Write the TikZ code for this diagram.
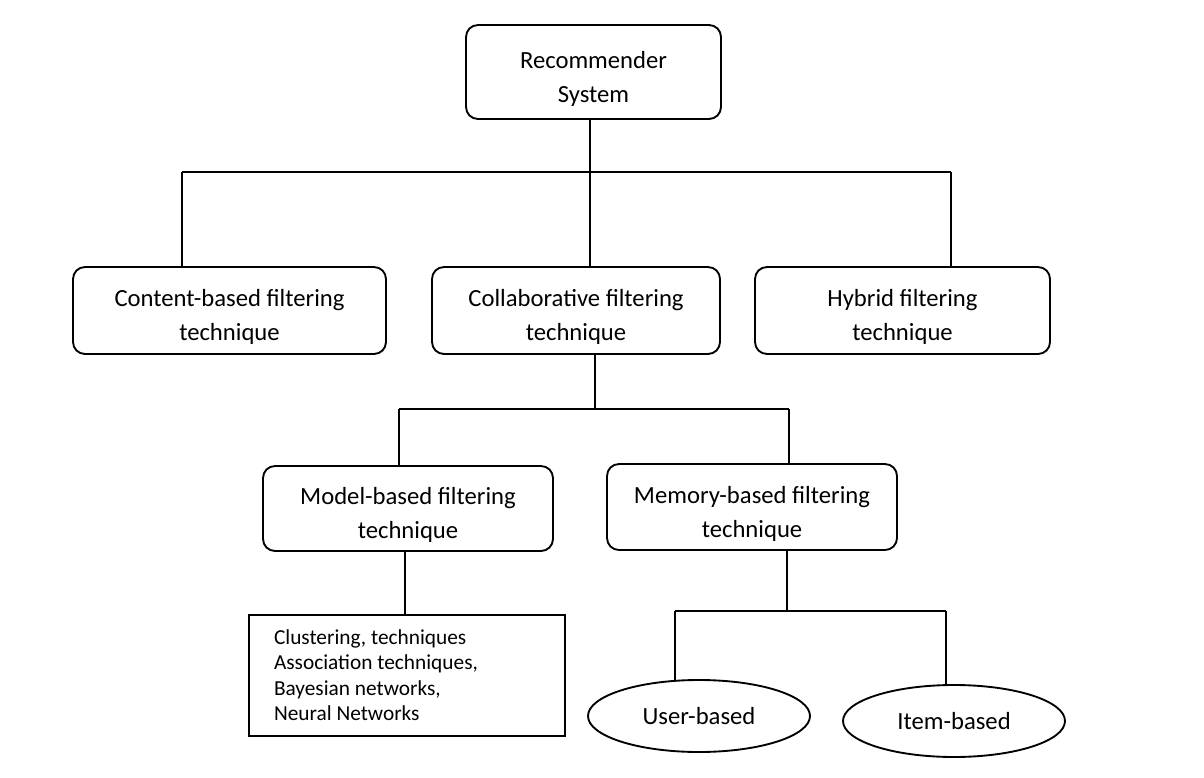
\documentclass[tikz,border=0pt]{standalone}
\usepackage{fontspec}
\setmainfont{Carlito}
\usetikzlibrary{shapes.geometric}
\frenchspacing
\newcommand\twoline[2]{\raisebox{-4.8pt}[\height][\depth]{\begin{tabular}{@{}c@{}}#1\\#2\end{tabular}}}
\tikzset{
  box/.style={draw, line width=1.4pt, rounded corners=9pt, inner sep=0pt,
    font=\fontsize{18.5}{25.5}\selectfont},
  listbox/.style={draw, line width=1.7pt, inner xsep=18.75pt, inner ysep=0pt,
    font=\fontsize{16}{19}\selectfont},
  oval/.style={draw, ellipse, line width=1.4pt, inner sep=0pt, minimum width=222*0.75pt, minimum height=72*0.75pt,
    font=\fontsize{18.5}{22}\selectfont},
  link/.style={line width=1.4pt}
}
\begin{document}
\begin{tikzpicture}[x=0.75pt,y=-0.75pt]
\useasboundingbox (0,0) rectangle (1204,778);
% level 0
\node[box, minimum width=255*0.75pt, minimum height=94*0.75pt] (root) at (593.5,72) {\twoline{Recommender}{System}};
% level 1
\node[box, minimum width=313*0.75pt, minimum height=87*0.75pt] (content) at (229.5,310.5) {\twoline{Content-based filtering}{technique}};
\node[box, minimum width=288*0.75pt, minimum height=87*0.75pt] (collab) at (576,310.5) {\twoline{Collaborative filtering}{technique}};
\node[box, minimum width=295*0.75pt, minimum height=87*0.75pt] (hybrid) at (902.5,310.5) {\twoline{Hybrid filtering}{technique}};
% level 2
\node[box, minimum width=290*0.75pt, minimum height=85*0.75pt] (model) at (408,508.5) {\twoline{Model-based filtering}{technique}};
\node[box, minimum width=290*0.75pt, minimum height=86*0.75pt] (memory) at (752,507) {\twoline{Memory-based filtering}{technique}};
% level 3
\node[listbox, minimum height=121*0.75pt] (list) at (407,675.5)
  {\raisebox{-1.5pt}[\height][\depth]{\begin{tabular}{@{}p{199.5pt}@{}}Clustering, techniques\\Association techniques,\\Bayesian networks,\\Neural Networks\end{tabular}}};
\node[oval] (user) at (699,716) {User-based};
\node[oval] (item) at (954,721) {Item-based};
% junctions
\coordinate (j1) at (590,172);
\coordinate (b1L) at (182,172);
\coordinate (b1R) at (951,172);
\coordinate (j2) at (595,409);
\coordinate (b2L) at (399,409);
\coordinate (b2R) at (789,409);
\coordinate (j3) at (405,551);
\coordinate (j4) at (787,611);
\coordinate (b4L) at (675,611);
\coordinate (b4R) at (946,611);
% connectors
\draw[link] (root.south -| j1) -- (j1);
\draw[link] (b1L) -- (b1R);
\draw[link] (b1L) -- (content.north -| b1L);
\draw[link] (j1) -- (collab.north -| j1);
\draw[link] (b1R) -- (hybrid.north -| b1R);
\draw[link] (collab.south -| j2) -- (j2);
\draw[link] (b2L) -- (b2R);
\draw[link] (b2L) -- (model.north -| b2L);
\draw[link] (b2R) -- (memory.north -| b2R);
\draw[link] (model.south -| j3) -- (list.north -| j3);
\draw[link] (memory.south -| j4) -- (j4);
\draw[link] (b4L) -- (b4R);
\draw[link] (b4L) -- ([yshift=-1]user.north -| b4L);
\draw[link] (b4R) -- ([yshift=-1]item.north -| b4R);
\end{tikzpicture}
\end{document}
